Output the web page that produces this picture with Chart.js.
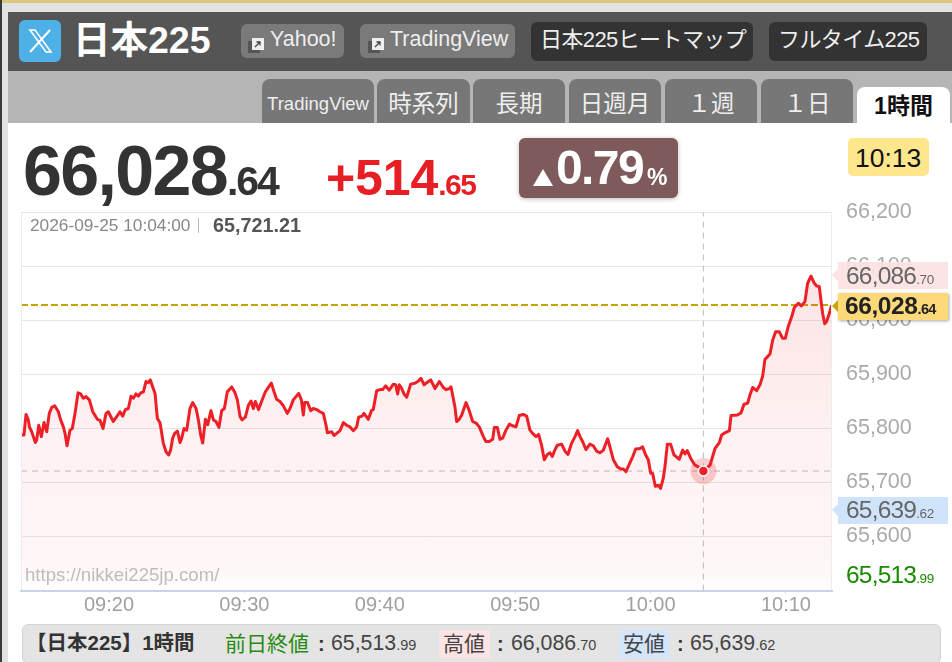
<!DOCTYPE html>
<html lang="ja"><head><meta charset="utf-8"><title>日本225</title>
<script src="https://cdn.jsdelivr.net/npm/chart.js@4"></script>
<style>
html,body{margin:0;padding:0;background:#fff;width:952px;height:662px;overflow:hidden;font-family:"Liberation Sans","Noto Sans CJK JP",sans-serif}
canvas{position:absolute;left:0;top:0}
.b,.t{position:absolute;white-space:nowrap}
.t{line-height:1;transform:translateY(-50%)}
.tab{position:absolute;top:79px;height:44px;background:#777;border-radius:8px 8px 0 0;color:#eee;text-align:center;line-height:50px;font-size:23.5px}
.ico{position:absolute;width:18px;height:16px}
.lab{position:absolute;left:838px;width:110px;height:27px}
.tri{position:absolute;left:-6px;top:7px;width:0;height:0;border-style:solid;border-width:6.5px 6px 6.5px 0;border-color:transparent}
.n{font-size:24.5px;letter-spacing:-.8px}
.n span{font-size:13.5px;letter-spacing:-.3px}
</style></head><body>
<canvas id="c" width="952" height="662"></canvas>

<div class="b" style="left:0;top:0;width:952px;height:3px;background:#dcc57e"></div>
<div class="b" style="left:0;top:3px;width:952px;height:9px;background:#e2e2e2"></div>
<div class="b" style="left:0;top:0;width:2px;height:662px;background:#3a3a36"></div>
<div class="b" style="left:2px;top:3px;width:6px;height:659px;background:#e2e2e2"></div>

<div class="b" style="left:8px;top:12px;width:944px;height:59px;background:#555"></div>
<div class="b" style="left:8px;top:71px;width:944px;height:52px;background:#b5b5b5"></div>

<div class="b" style="left:19px;top:20px;width:42px;height:42px;border-radius:6px;background:#4db0e6">
<svg width="42" height="42" viewBox="0 0 42 42"><path d="M11 10 L16 10 L32 32 L27 32 Z" fill="none" stroke="#fff" stroke-width="1.6"/><path d="M31 10 L11 32" stroke="#fff" stroke-width="2" fill="none"/></svg></div>
<div class="t" style="left:73px;top:41px;font-size:37.5px;font-weight:bold;color:#fff">日本225</div>

<div class="b" style="left:241px;top:24px;width:103px;height:34px;background:#7a7a7a;border-radius:6px"></div>
<svg class="ico" style="left:247px;top:37px" viewBox="0 0 18 16"><rect x="1" y="4" width="12" height="12" fill="#555"/><rect x="5" y="1" width="12" height="12" fill="#eee"/><path d="M8 10 L13 5 M9.5 5 H13 V8.5" stroke="#444" stroke-width="1.3" fill="none"/></svg>
<div class="t" style="left:270px;top:40px;font-size:21.5px;color:#eee">Yahoo!</div>
<div class="b" style="left:360px;top:24px;width:155px;height:34px;background:#7a7a7a;border-radius:6px"></div>
<svg class="ico" style="left:367px;top:37px" viewBox="0 0 18 16"><rect x="1" y="4" width="12" height="12" fill="#555"/><rect x="5" y="1" width="12" height="12" fill="#eee"/><path d="M8 10 L13 5 M9.5 5 H13 V8.5" stroke="#444" stroke-width="1.3" fill="none"/></svg>
<div class="t" style="left:390px;top:40px;font-size:21.5px;color:#eee">TradingView</div>
<div class="b" style="left:531px;top:22px;width:222px;height:39px;background:#333;border-radius:6px"></div>
<div class="t" style="left:540px;top:40px;font-size:22px;letter-spacing:-.6px;color:#eee">日本225ヒートマップ</div>
<div class="b" style="left:769px;top:22px;width:158px;height:39px;background:#333;border-radius:6px"></div>
<div class="t" style="left:778px;top:40px;font-size:22px;letter-spacing:-.6px;color:#eee">フルタイム225</div>

<div class="tab" style="left:262px;width:112px;font-size:18.5px">TradingView</div>
<div class="tab" style="left:377px;width:93px">時系列</div>
<div class="tab" style="left:473px;width:92px">長期</div>
<div class="tab" style="left:569px;width:92px">日週月</div>
<div class="tab" style="left:665px;width:92px">１週</div>
<div class="tab" style="left:761px;width:92px">１日</div>
<div class="tab" style="left:857px;top:87px;height:36px;width:93px;background:#fff;color:#111;font-weight:bold;font-size:23px;line-height:38px">1時間</div>

<div class="t" style="left:23px;top:171px;font-size:70px;font-weight:bold;letter-spacing:-1.7px;color:#333">66,028<span style="font-size:41px;letter-spacing:-2px">.64</span></div>
<div class="t" style="left:326px;top:178px;font-size:50px;font-weight:bold;letter-spacing:-.1px;color:#e81e25">+514<span style="font-size:30px;letter-spacing:-1.5px">.65</span></div>

<div class="b" style="left:519px;top:138px;width:159px;height:60px;background:#7f5a5a;border-radius:6px;box-shadow:0 1px 4px rgba(90,50,50,.35)"></div>
<div class="b" style="left:533px;top:169px;width:0;height:0;border-style:solid;border-width:0 10.5px 17px 10.5px;border-color:transparent transparent #fff transparent"></div>
<div class="t" style="left:556px;top:168px;font-size:48px;font-weight:bold;letter-spacing:-1.6px;color:#fff">0.79</div>
<div class="t" style="left:647px;top:177px;font-size:23px;font-weight:bold;color:#fff">%</div>

<div class="b" style="left:848px;top:138px;width:81px;height:38px;background:#fde68c;border-radius:5px"></div>
<div class="t" style="left:855px;top:158px;font-size:26.5px;color:#111">10:13</div>

<div class="b" style="left:21px;top:212px;width:811px;height:378px;border-left:1px solid #ececec;border-right:1px solid #ececec;box-sizing:border-box"></div>
<div class="t" style="left:30px;top:226px;font-size:17.3px;color:#888">2026-09-25 10:04:00</div>
<div class="b" style="left:198px;top:218px;width:1px;height:15px;background:#bbb"></div>
<div class="t" style="left:213px;top:226px;font-size:19.8px;font-weight:bold;color:#555">65,721.21</div>
<div class="t" style="left:25px;top:575px;font-size:18.6px;color:#bdbdbd">https://nikkei225jp.com/</div>

<div class="lab" style="top:262px;background:rgba(253,226,226,.92)"><div class="tri" style="border-right-color:#fde2e2"></div></div>
<div class="t n" style="left:846px;top:276px;color:#666">66,086<span>.70</span></div>
<div class="lab" style="top:293px;background:#fdd97a;box-shadow:1px 1px 3px rgba(0,0,0,.35)"><div class="tri" style="border-right-color:#c8a800"></div></div>
<div class="t" style="left:845px;top:306px;font-size:24.5px;font-weight:bold;letter-spacing:-.4px;color:#222">66,028<span style="font-size:14.5px;letter-spacing:-.7px">.64</span></div>
<div class="lab" style="top:497px;background:#cfe4fb"><div class="tri" style="border-right-color:#cfe4fb"></div></div>
<div class="t n" style="left:846px;top:510px;color:#666">65,639<span>.62</span></div>
<div class="t n" style="left:846px;top:575px;color:#1a8a00">65,513<span>.99</span></div>

<div class="b" style="left:22px;top:624px;width:919px;height:40px;background:#e4e4e4;border:1px solid #d4d4d4;border-radius:6px;box-sizing:border-box"></div>
<div class="t" style="left:26px;top:643px;font-size:20.5px;font-weight:bold;color:#333">【日本225】1時間</div>
<div class="t" style="left:225px;top:643px;font-size:21px;color:#2a8a10">前日終値</div>
<div class="t" style="left:318px;top:644px;font-size:20px;font-weight:bold;color:#333">:</div>
<div class="t" style="left:331px;top:644px;font-size:21.3px;color:#444">65,513<span style="font-size:14.5px">.99</span></div>
<div class="b" style="left:439px;top:630px;width:51px;height:28px;background:#fde4e4"></div>
<div class="t" style="left:443px;top:643px;font-size:21px;color:#444">高値</div>
<div class="t" style="left:497px;top:644px;font-size:20px;font-weight:bold;color:#333">:</div>
<div class="t" style="left:511px;top:644px;font-size:21.3px;color:#444">66,086<span style="font-size:14.5px">.70</span></div>
<div class="b" style="left:619px;top:630px;width:50px;height:28px;background:#d3e6fb"></div>
<div class="t" style="left:623px;top:643px;font-size:21px;color:#444">安値</div>
<div class="t" style="left:677px;top:644px;font-size:20px;font-weight:bold;color:#333">:</div>
<div class="t" style="left:690px;top:644px;font-size:21.3px;color:#444">65,639<span style="font-size:14.5px">.62</span></div>

<script>
// minutes after 09:00
const minutes = [13.5,13.72,13.87,14.04,14.12,14.29,14.56,14.66,14.81,15.0,15.2,15.4,15.59,15.77,15.99,16.26,16.43,16.63,16.75,16.9,17.12,17.29,17.49,17.71,17.91,18.1,18.3,18.55,18.8,19.14,19.34,19.56,19.78,19.95,20.07,20.32,20.57,20.81,21.01,21.21,21.43,21.63,21.8,21.99,22.17,22.34,22.54,22.73,22.91,23.05,23.23,23.4,23.57,23.77,24.01,24.21,24.41,24.55,24.7,24.85,25.05,25.25,
25.37,25.54,25.74,25.98,26.18,26.43,26.6,26.77,26.92,27.12,27.29,27.53,27.71,27.9,28.12,28.32,28.52,28.74,29.06,29.31,29.48,29.68,29.82,30.07,30.29,30.49,30.66,30.81,31.05,31.28,31.55,31.79,31.99,32.19,32.38,32.63,32.88,33.17,33.37,33.61,34.01,34.21,34.35,34.45,34.67,34.9,35.09,35.34,35.58,35.83,36.03,36.13,36.45,36.62,36.82,37.06,
37.31,37.55,37.8,38.05,38.29,38.44,38.69,38.83,39.15,39.4,39.52,39.77,40.02,40.21,40.43,40.7,41.0,41.17,41.32,41.44,41.62,41.79,41.99,42.28,42.6,42.85,43.04,43.27,43.59,43.76,44.08,44.4,44.69,44.89,45.14,45.26,45.38,45.55,45.68,45.87,46.05,46.37,46.61,46.86,47.11,47.35,47.65,47.84,48.09,48.34,48.46,48.68,48.88,
49.07,49.32,49.57,49.81,50.06,50.3,50.6,50.85,51.09,51.29,51.54,51.73,51.95,52.15,52.37,52.57,52.74,52.89,53.11,53.43,53.68,53.9,54.17,54.42,54.61,54.79,54.98,55.23,55.52,55.77,56.02,56.26,56.51,56.83,57.0,57.25,57.54,57.79,57.99,58.18,58.43,58.68,58.9,59.22,59.41,59.64,59.83,60.01,60.15,60.35,60.6,60.74,60.94,61.06,
61.24,61.48,61.73,62.12,62.37,62.54,62.71,62.96,63.28,63.53,63.9,64.39,64.76,65.08,65.25,65.49,65.82,65.94,66.41,66.68,66.9,67.17,67.34,67.54,67.83,68.08,68.28,68.45,68.82,69.02,69.24,69.51,69.75,69.95,70.17,70.42,70.62,70.91,71.13,71.4,71.6,71.85,72.07,72.27,72.46,72.61,72.71,72.86,73.0,73.2,73.37];
const prices = [65788,65788,65826,65816,65803,65794,65774,65779,65806,65785,65811,65794,65828,65839,65842,65831,65816,65803,65791,65768,65797,65800,65828,65866,65864,65856,65859,65853,65831,65817,65815,65800,65828,65831,65825,65813,65822,65831,65823,65835,65837,65860,65856,65864,65860,65866,65868,65887,65885,65890,65877,65865,65819,65810,65773,65757,65751,65760,65782,65791,65795,65774,
65782,65800,65797,65837,65848,65837,65816,65788,65773,65817,65807,65833,65816,65813,65802,65833,65837,65868,65877,65866,65853,65822,65816,65821,65843,65851,65837,65850,65835,65851,65868,65877,65884,65868,65854,65850,65842,65828,65837,65853,65865,65853,65825,65848,65848,65833,65837,65835,65831,65828,65806,65792,65794,65787,65791,65796,
65811,65806,65803,65796,65803,65821,65823,65828,65817,65834,65835,65870,65872,65872,65879,65871,65882,65881,65864,65881,65874,65864,65858,65882,65884,65888,65893,65881,65887,65890,65874,65887,65876,65872,65874,65877,65862,65840,65813,65817,65825,65848,65833,65813,65810,65803,65785,65776,65776,65780,65802,65802,65780,
65782,65797,65808,65805,65803,65824,65826,65823,65797,65791,65785,65789,65769,65742,65752,65755,65748,65758,65769,65771,65758,65752,65773,65785,65796,65785,65776,65761,65771,65768,65758,65755,65760,65781,65766,65742,65729,65725,65725,65720,65734,65748,65762,65763,65766,65751,65742,65717,65717,65693,65695,65689,65708,65729,
65771,65771,65751,65743,65760,65753,65759,65745,65732,65729,65721.21,65732,65763,65774,65788,65792,65796,65824,65825,65829,65845,65847,65862,65876,65870,65881,65897,65928,65938,65964,65979,65979,65967,65967,65989,66007,66024,66032,66027,66035,66069,66082,66070,66064,66063,66032,66013,65994,65998,66013,66028.64];
const xTickMinutes = [20,30,40,50,60,70];
const xTickLabels = ["09:20","09:30","09:40","09:50","10:00","10:10"];
const yTickValues = [65600,65700,65800,65900,66000,66100,66200];
const xMin = 13.5, xMax = 73.4, yMin = 65500, yMax = 66200;
const currentPrice = 66028.64;
const cursorMinute = 63.9, cursorPrice = 65721.21;

const series = minutes.map((m,i)=>({x:m,y:prices[i]}));
new Chart(document.getElementById('c'),{
  type:'line',
  data:{datasets:[
    {data:[{x:cursorMinute,y:cursorPrice}],pointRadius:5,pointBackgroundColor:'#ee2027',pointBorderColor:'#fff',pointBorderWidth:1.5,showLine:false},
    {data:series,borderColor:'#ee2027',borderWidth:3,pointRadius:0,tension:0,fill:'start',borderJoinStyle:'round',
     backgroundColor(ctx){const a=ctx.chart.chartArea;if(!a)return 'transparent';
       const g=ctx.chart.ctx.createLinearGradient(0,a.top,0,a.bottom);
       g.addColorStop(0,'rgba(238,32,39,.15)');g.addColorStop(.6,'rgba(238,32,39,.06)');g.addColorStop(.95,'rgba(238,32,39,.035)');g.addColorStop(1,'rgba(238,32,39,.005)');return g;}},
    {data:[{x:cursorMinute,y:cursorPrice}],pointRadius:13,pointBackgroundColor:'rgba(238,32,39,.22)',pointBorderWidth:0,showLine:false},
    {data:[{x:xMin,y:currentPrice},{x:xMax,y:currentPrice}],borderColor:'#c4a400',borderWidth:2,borderDash:[7,3],pointRadius:0},
    {data:[{x:xMin,y:cursorPrice},{x:xMax,y:cursorPrice}],borderColor:'#bdbdbd',borderWidth:1,borderDash:[6,5],pointRadius:0},
    {data:[{x:cursorMinute,y:yMin},{x:cursorMinute,y:yMax}],borderColor:'#bdbdbd',borderWidth:1,borderDash:[6,5],pointRadius:0}
  ]},
  options:{
    responsive:false,animation:false,devicePixelRatio:1,
    layout:{padding:{left:21,top:212.5,right:0,bottom:0}},
    plugins:{legend:{display:false},tooltip:{enabled:false}},
    scales:{
      x:{type:'linear',min:xMin,max:xMax,
        afterBuildTicks(s){s.ticks=xTickMinutes.map(v=>({value:v}));},
        afterFit(s){s.height=662-590.5;},
        grid:{drawOnChartArea:false,drawTicks:true,tickLength:3,tickColor:'#d5dfea'},
        border:{color:'#c5d5e5',width:2},
        ticks:{padding:0,autoSkip:false,maxRotation:0,color:'#a0a0a0',font:{family:'Liberation Sans',size:20},
          callback(v){const i=xTickMinutes.indexOf(v);return i<0?'':xTickLabels[i];}}},
      y:{position:'right',min:yMin,max:yMax,
        afterBuildTicks(s){s.ticks=yTickValues.map(v=>({value:v}));},
        afterFit(s){s.width=952-832;},
        grid:{color:'#e6e6e6',lineWidth:1,drawTicks:false},
        border:{display:false},
        ticks:{padding:14,color:'#aaaaaa',font:{family:'Liberation Sans',size:21.5},
          callback(v){return v.toLocaleString('en-US');}}}
    }
  }
});
</script>
</body></html>
